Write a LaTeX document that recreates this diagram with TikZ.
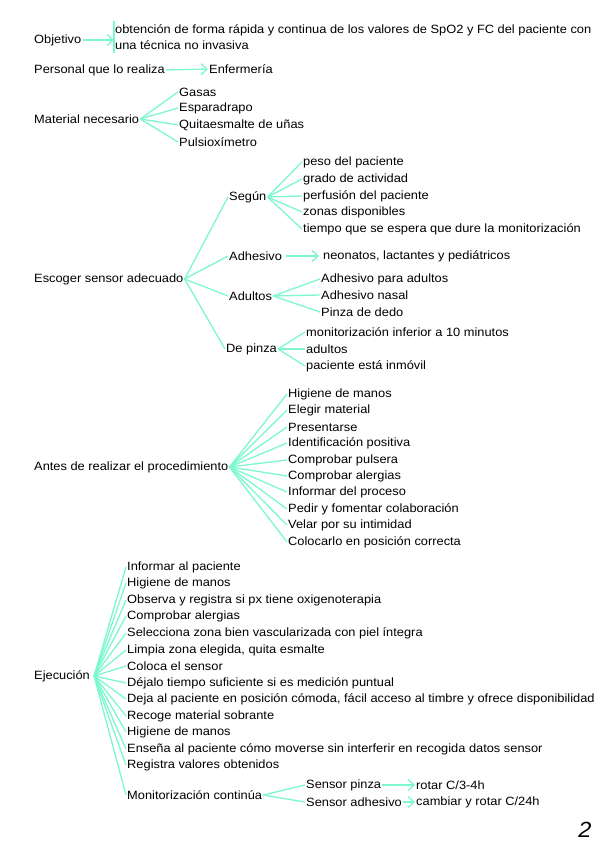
\documentclass[tikz,border=0pt]{standalone}
\usepackage{fontspec}
\setmainfont[FakeStretch=1.07]{Liberation Sans}
\usetikzlibrary{arrows.meta}
\definecolor{menta}{RGB}{125,248,205}

\begin{document}
\begin{tikzpicture}[x=1pt,y=-1pt,>={Straight Barb[length=6pt,width=11pt]},
  linea/.style={draw=menta,line width=1.3pt},
  txt/.style={anchor=west,inner sep=1pt,font=\fontsize{12}{16.5}\selectfont}]
  \useasboundingbox (0,0) rectangle (599,848);
  % objetivo y personal
  \node[txt] (obj) at (33,40) {Objetivo};
  \node[txt,align=left,inner ysep=3pt] (obt) at (114,37) {obtención de forma rápida y continua de los valores de SpO2 y FC del paciente con\\una técnica no invasiva};
  \draw[linea] (obt.north west) -- (obt.south west);
  \draw[linea,->] (obj.east) -- (obj.east -| obt.west);
  \node[txt] (per) at (33,70) {Personal que lo realiza};
  \node[txt] (enf) at (208,69) {Enfermería};
  \draw[linea,->] (per.east) -- (enf.west);
  % material
  \node[txt] (mat) at (33,119) {Material necesario};
  \foreach \n/\y/\t in {gas/92/Gasas, esp/108/Esparadrapo, qui/125/{Quitaesmalte de uñas}, pul/142/Pulsioxímetro}{
    \node[txt] (\n) at (178,\y) {\t};
    \draw[linea] (mat.east) -- (\n.west);
  }
  % sensor
  \node[txt] (esc) at (33,279) {Escoger sensor adecuado};
  \foreach \n/\x/\y/\t in {seg/228/197/Según, adh/228/256/Adhesivo, adu/228/296/Adultos, pin/225/349/{De pinza}}{
    \node[txt] (\n) at (\x,\y) {\t};
    \draw[linea] (esc.east) -- (\n.west);
  }
  \foreach \n/\y/\t in {s1/162/{peso del paciente}, s2/179/{grado de actividad}, s3/196/{perfusión del paciente}, s4/212/{zonas disponibles}, s5/229/{tiempo que se espera que dure la monitorización}}{
    \node[txt] (\n) at (302,\y) {\t};
    \draw[linea] (seg.east) -- (\n.west);
  }
  \node[txt] (neo) at (322,256) {neonatos, lactantes y pediátricos};
  \draw[linea,->] ([xshift=3pt]adh.east) -- ([xshift=-3pt]neo.west);
  \foreach \n/\y/\t in {a1/279/{Adhesivo para adultos}, a2/295/{Adhesivo nasal}, a3/312/{Pinza de dedo}}{
    \node[txt] (\n) at (320,\y) {\t};
    \draw[linea] (adu.east) -- (\n.west);
  }
  \foreach \n/\y/\t in {p1/332/{monitorización inferior a 10 minutos}, p2/349/adultos, p3/366/{paciente está inmóvil}}{
    \node[txt] (\n) at (305,\y) {\t};
    \draw[linea] (pin.east) -- (\n.west);
  }
  % antes del procedimiento
  \node[txt] (ant) at (33,467) {Antes de realizar el procedimiento};
  \foreach \n/\y/\t in {b1/394/{Higiene de manos}, b2/410/{Elegir material}, b3/427/Presentarse, b4/443/{Identificación positiva}, b5/460/{Comprobar pulsera}, b6/476/{Comprobar alergias}, b7/492/{Informar del proceso}, b8/509/{Pedir y fomentar colaboración}, b9/525/{Velar por su intimidad}, b10/542/{Colocarlo en posición correcta}}{
    \node[txt] (\n) at (287,\y) {\t};
    \draw[linea] (ant.east) -- (\n.west);
  }
  % ejecucion
  \node[txt] (eje) at (33,676) {Ejecución};
  \foreach \n/\y/\t in {e1/567/{Informar al paciente}, e2/583/{Higiene de manos}, e3/600/{Observa y registra si px tiene oxigenoterapia}, e4/616/{Comprobar alergias}, e5/633/{Selecciona zona bien vascularizada con piel íntegra}, e6/650/{Limpia zona elegida, quita esmalte}, e7/666/{Coloca el sensor}, e8/683/{Déjalo tiempo suficiente si es medición puntual}, e9/699/{Deja al paciente en posición cómoda, fácil acceso al timbre y ofrece disponibilidad}, e10/716/{Recoge material sobrante}, e11/732/{Higiene de manos}, e12/749/{Enseña al paciente cómo moverse sin interferir en recogida datos sensor}, e13/765/{Registra valores obtenidos}, mon/795/{Monitorización continúa}}{
    \node[txt] (\n) at (126,\y) {\t};
    \draw[linea] ([xshift=3pt]eje.east) -- (\n.west);
  }
  \node[txt] (spz) at (305,785) {Sensor pinza};
  \node[txt] (sad) at (305,802) {Sensor adhesivo};
  \draw[linea] (mon.east) -- (spz.west);
  \draw[linea] (mon.east) -- (sad.west);
  \node[txt] (rot) at (415,785) {rotar C/3-4h};
  \node[txt] (cam) at (415,802) {cambiar y rotar C/24h};
  \draw[linea,->] (spz.east) -- (rot.west);
  \draw[linea,->] (sad.east) -- (cam.west);
  % numero de pagina
  \node[font=\fontsize{22}{22}\itshape] (pag) at (585,830) {2};
\end{tikzpicture}
\end{document}
